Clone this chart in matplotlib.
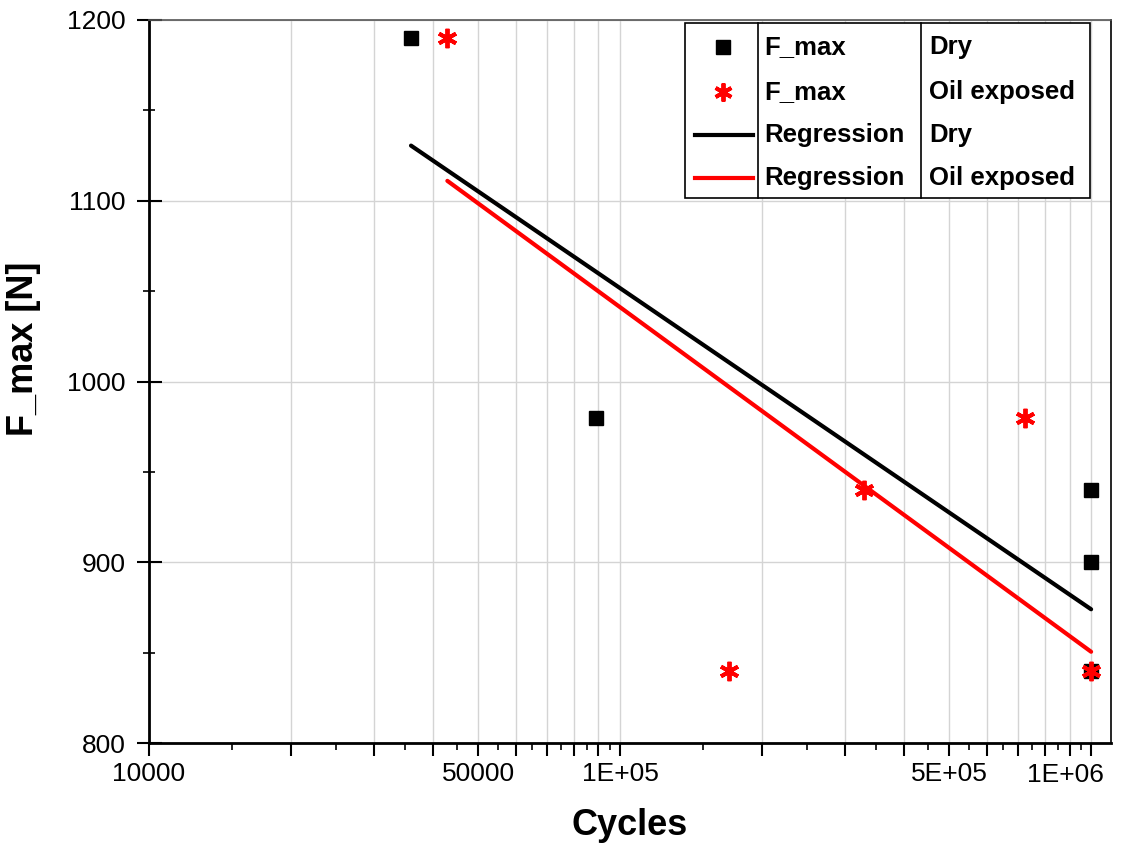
import numpy as np
import matplotlib

matplotlib.use("Agg")
import matplotlib.pyplot as plt
from matplotlib.lines import Line2D
from matplotlib.ticker import FixedLocator, FuncFormatter
from matplotlib.transforms import offset_copy

plt.rcParams["font.family"] = ["Liberation Sans", "DejaVu Sans"]

# data
dry_cycles = [36000, 89000, 1.0e6, 1.0e6, 1.0e6]
dry_fmax = [1190, 980, 940, 900, 840]
oil_cycles = [43000, 170000, 330000, 725000, 1.0e6]
oil_fmax = [1190, 840, 940, 980, 840]

# regression lines (end points)
reg_dry_cycles = [36000, 1.0e6]
reg_dry_fmax = [1130.5, 874]
reg_oil_cycles = [43000, 1.0e6]
reg_oil_fmax = [1111, 850.5]

xtick_values = [1e4, 5e4, 1e5, 5e5, 1e6]
xtick_labels = ["10000", "50000", "1E+05", "5E+05", "1E+06"]

legend_rows = [
    ("F_max", "Dry"),
    ("F_max", "Oil exposed"),
    ("Regression", "Dry"),
    ("Regression", "Oil exposed"),
]

fig = plt.figure(figsize=(11.25, 8.46), dpi=100)
ax = fig.add_axes([0.1324, 0.1217, 0.8548, 0.8547])

ax.set_xscale("log")
ax.set_xlim(1e4, 1.1e6)
ax.set_ylim(800, 1200)

# grid at every integer multiple, minor ticks half way between
majors = [m * 10 ** e for e in (4, 5) for m in range(1, 10)] + [1e6]
minors = [(m + 0.5) * 10 ** e for e in (4, 5) for m in range(1, 10)]
ax.xaxis.set_major_locator(FixedLocator(majors))
ax.xaxis.set_minor_locator(FixedLocator(minors))
# last label is drawn by hand below, pulled inside the figure
lab = dict(zip(xtick_values[:-1], xtick_labels[:-1]))
ax.xaxis.set_major_formatter(FuncFormatter(lambda v, p: next((s for k, s in lab.items() if abs(k - v) < 1), "")))
ax.xaxis.set_minor_formatter(FuncFormatter(lambda v, p: ""))

ax.yaxis.set_major_locator(FixedLocator(np.arange(800, 1201, 100)))
ax.yaxis.set_minor_locator(FixedLocator(np.arange(850, 1200, 100)))

ax.grid(True, which="major", color="#d4d4d4", linewidth=1.0)
ax.set_axisbelow(True)

ax.tick_params(axis="x", which="major", direction="out", length=9.5, width=1.5, labelsize=19, pad=4)
ax.tick_params(axis="x", which="minor", direction="out", length=5, width=1.2)
ax.tick_params(axis="y", which="major", direction="inout", length=18, width=1.5, labelsize=19, pad=8)
ax.tick_params(axis="y", which="minor", direction="inout", length=9, width=1.2)

last_tf = offset_copy(ax.get_xaxis_transform(), fig=fig, x=-26, y=-20, units="dots")
ax.text(xtick_values[-1], 0, xtick_labels[-1], transform=last_tf, fontsize=19,
        ha="center", va="top", clip_on=False)

for side in ("left", "bottom"):
    ax.spines[side].set_linewidth(2)
for side in ("top", "right"):
    ax.spines[side].set_linewidth(1.2)
ax.spines["top"].set_color("#555555")

ax.plot(reg_dry_cycles, reg_dry_fmax, color="black", lw=3, solid_capstyle="round", zorder=3)
ax.plot(reg_oil_cycles, reg_oil_fmax, color="red", lw=3, solid_capstyle="round", zorder=3)
ax.plot(dry_cycles, dry_fmax, ls="none", marker="s", ms=10.5, color="black", zorder=4)
ax.plot(oil_cycles, oil_fmax, ls="none", marker=(6, 2, 0), ms=14, mew=2.8, color="red", zorder=5)

ax.set_xlabel("Cycles", fontsize=26, fontweight="bold", labelpad=16)
ax.set_ylabel("F_max [N]", fontsize=26, fontweight="bold")
ax.yaxis.set_label_coords(-0.112, 0.545)

# table-style legend in the upper right corner
x0, x1, c1, c2 = 0.557, 0.9786, 0.633, 0.803
y_top, y_bot = 0.9959, 0.7538
row_y = [0.963, 0.901, 0.841, 0.781]
box = dict(transform=ax.transAxes, color="black", lw=1.2, zorder=6)
ax.add_patch(plt.Rectangle((x0, y_bot), x1 - x0, y_top - y_bot, transform=ax.transAxes,
                           facecolor="white", edgecolor="black", lw=1.2, zorder=5))
ax.add_line(Line2D([c1, c1], [y_bot, y_top], **box))
ax.add_line(Line2D([c2, c2], [y_bot, y_top], **box))

ax.plot([0.597], [row_y[0]], transform=ax.transAxes, marker="s", ms=10, color="black", zorder=7)
ax.plot([0.597], [row_y[1]], transform=ax.transAxes, marker=(6, 2, 0), ms=13, mew=2.8, color="red", zorder=7)
ax.plot([0.568, 0.628], [row_y[2]] * 2, transform=ax.transAxes, color="black", lw=3, zorder=7)
ax.plot([0.568, 0.628], [row_y[3]] * 2, transform=ax.transAxes, color="red", lw=3, zorder=7)

for y, (a, b) in zip(row_y, legend_rows):
    ax.text(0.6396, y, a, transform=ax.transAxes, fontsize=18.5, fontweight="bold", va="center", zorder=7)
    ax.text(0.811, y, b, transform=ax.transAxes, fontsize=18.5, fontweight="bold", va="center", zorder=7)

fig.savefig("out.png", dpi=100)
